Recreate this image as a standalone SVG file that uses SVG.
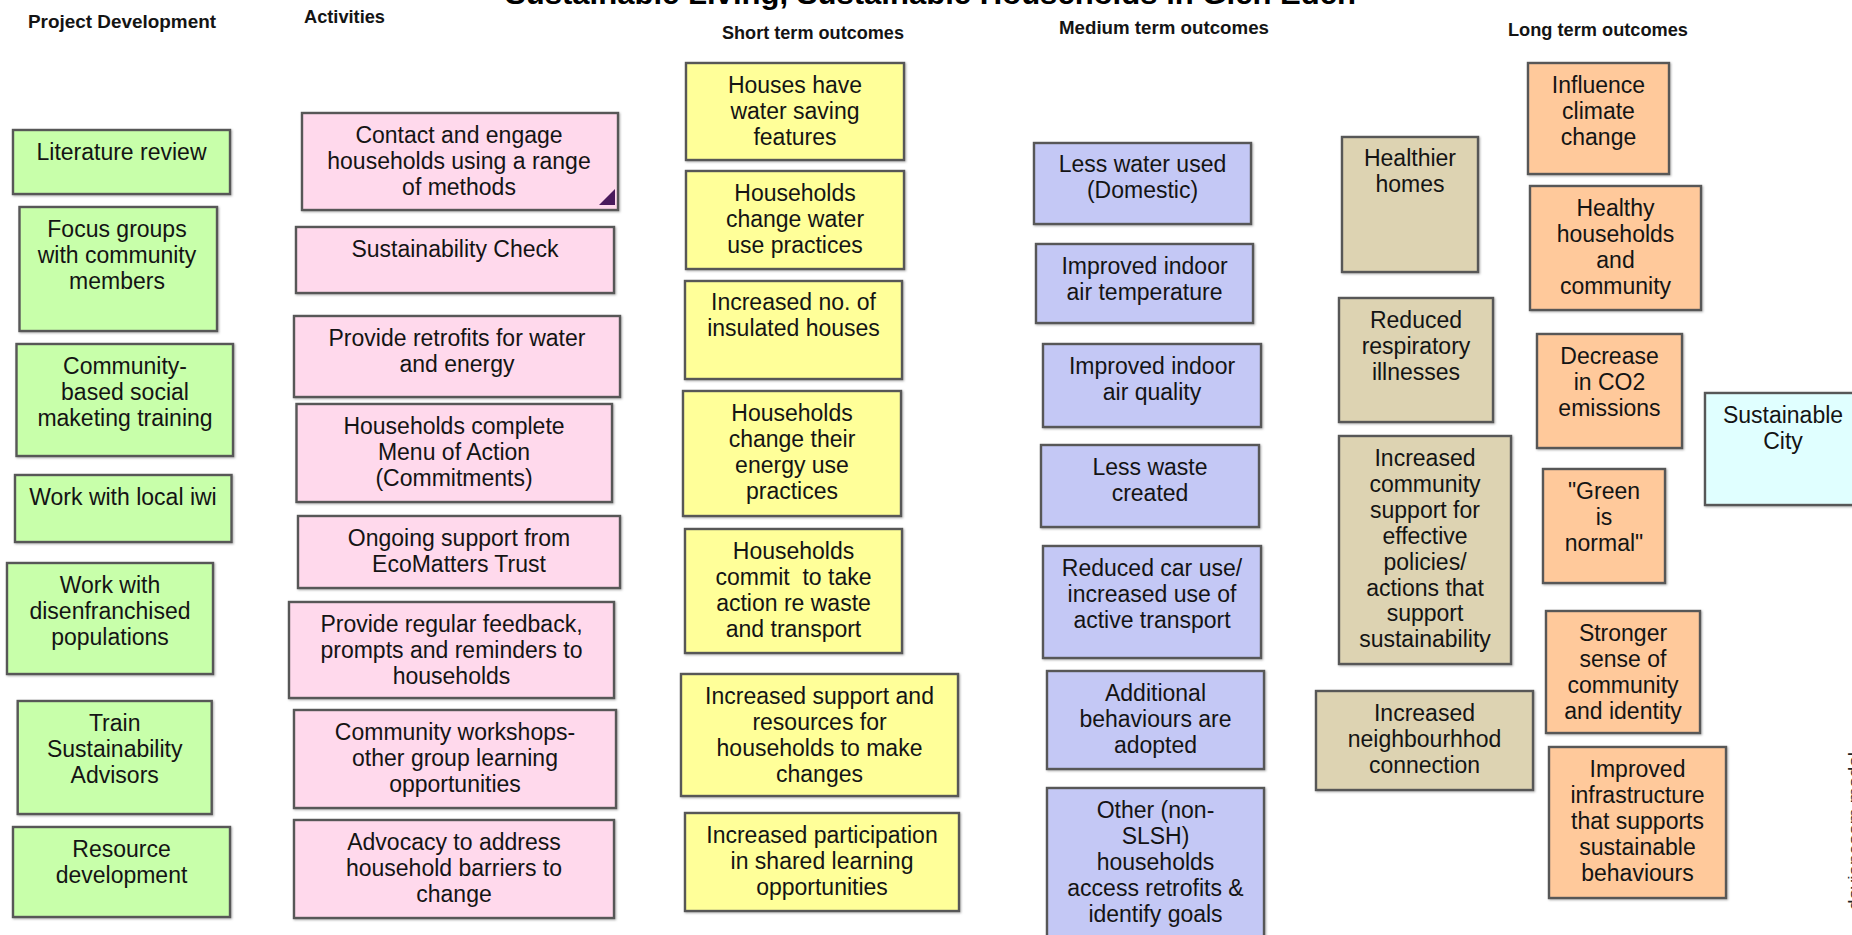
<svg xmlns="http://www.w3.org/2000/svg" width="1852" height="935" viewBox="0 0 1852 935">
<defs>
<style>
.box{stroke:#575757;stroke-width:2.4;filter:drop-shadow(1px 1.5px 1px rgba(0,0,0,0.3));}
.pd{fill:#c8ffaa;}
.ac{fill:#ffd9ec;}
.st{fill:#ffff99;}
.mt{fill:#c4c8f5;}
.lt{fill:#ddd3b2;}
.lo{fill:#ffc99b;}
.gl{fill:#e0ffff;}
.t{font-family:"Liberation Sans",Arial,Helvetica,sans-serif;font-size:23px;fill:#141414;text-anchor:middle;white-space:pre;}
.h{font-family:"Liberation Sans",Arial,Helvetica,sans-serif;font-size:17.5px;font-weight:bold;fill:#141414;}
.title{font-family:"Liberation Sans",Arial,Helvetica,sans-serif;font-size:30px;font-weight:bold;fill:#000;}
.v{font-family:"Liberation Sans",Arial,Helvetica,sans-serif;font-size:14px;fill:#222;}
</style>
</defs>
<rect width="1852" height="935" fill="#ffffff"/>

<g id="title"><text class="title" x="505" y="4" textLength="851" lengthAdjust="spacingAndGlyphs">Sustainable Living, Sustainable Households in Glen Eden</text></g>

<g id="headers">
<text class="h" x="28" y="28" textLength="188" lengthAdjust="spacingAndGlyphs">Project Development</text>
<text class="h" x="304" y="22.5" textLength="81" lengthAdjust="spacingAndGlyphs">Activities</text>
<text class="h" x="722" y="39" textLength="182" lengthAdjust="spacingAndGlyphs">Short term outcomes</text>
<text class="h" x="1059" y="34" textLength="210" lengthAdjust="spacingAndGlyphs">Medium term outcomes</text>
<text class="h" x="1508" y="35.5" textLength="180" lengthAdjust="spacingAndGlyphs">Long term outcomes</text>
</g>

<g id="connectors"></g>

<!-- Project development -->
<g id="pd1"><rect class="box pd" x="13" y="130" width="217" height="64"/><text class="t" x="121.5" y="160"><tspan x="121.5">Literature review</tspan></text></g>
<g id="pd2"><rect class="box pd" x="19.5" y="207" width="197.5" height="124"/><text class="t" y="237"><tspan x="117">Focus groups</tspan><tspan x="117" dy="25.9">with community</tspan><tspan x="117" dy="25.9">members</tspan></text></g>
<g id="pd3"><rect class="box pd" x="16.5" y="344" width="216.5" height="112"/><text class="t" y="374"><tspan x="125">Community-</tspan><tspan x="125" dy="25.9">based social</tspan><tspan x="125" dy="25.9">maketing training</tspan></text></g>
<g id="pd4"><rect class="box pd" x="15" y="475" width="216.5" height="67"/><text class="t" y="505"><tspan x="123">Work with local iwi</tspan></text></g>
<g id="pd5"><rect class="box pd" x="7" y="563" width="206" height="111"/><text class="t" y="593"><tspan x="110">Work with</tspan><tspan x="110" dy="25.9">disenfranchised</tspan><tspan x="110" dy="25.9">populations</tspan></text></g>
<g id="pd6"><rect class="box pd" x="17.7" y="701" width="194" height="113"/><text class="t" y="731"><tspan x="114.7">Train</tspan><tspan x="114.7" dy="25.9">Sustainability</tspan><tspan x="114.7" dy="25.9">Advisors</tspan></text></g>
<g id="pd7"><rect class="box pd" x="13" y="827" width="217" height="90"/><text class="t" y="857"><tspan x="121.5">Resource</tspan><tspan x="121.5" dy="25.9">development</tspan></text></g>

<!-- Activities -->
<g id="ac1"><rect class="box ac" x="302" y="113" width="316" height="97"/><text class="t" y="143"><tspan x="459">Contact and engage</tspan><tspan x="459" dy="25.9">households using a range</tspan><tspan x="459" dy="25.9">of methods</tspan></text><polygon points="615,189 615,205 599,205" fill="#4a1a5c"/></g>
<g id="ac2"><rect class="box ac" x="296" y="227" width="318" height="66"/><text class="t" y="257"><tspan x="455">Sustainability Check</tspan></text></g>
<g id="ac3"><rect class="box ac" x="294" y="316" width="326" height="81"/><text class="t" y="346"><tspan x="457">Provide retrofits for water</tspan><tspan x="457" dy="25.9">and energy</tspan></text></g>
<g id="ac4"><rect class="box ac" x="296.5" y="404" width="315.5" height="98"/><text class="t" y="434"><tspan x="454">Households complete</tspan><tspan x="454" dy="25.9">Menu of Action</tspan><tspan x="454" dy="25.9">(Commitments)</tspan></text></g>
<g id="ac5"><rect class="box ac" x="298" y="516" width="322" height="72"/><text class="t" y="546"><tspan x="459">Ongoing support from</tspan><tspan x="459" dy="25.9">EcoMatters Trust</tspan></text></g>
<g id="ac6"><rect class="box ac" x="289" y="602" width="325" height="96"/><text class="t" y="632"><tspan x="451.5">Provide regular feedback,</tspan><tspan x="451.5" dy="25.9">prompts and reminders to</tspan><tspan x="451.5" dy="25.9">households</tspan></text></g>
<g id="ac7"><rect class="box ac" x="294" y="710" width="322" height="98"/><text class="t" y="740"><tspan x="455">Community workshops-</tspan><tspan x="455" dy="25.9">other group learning</tspan><tspan x="455" dy="25.9">opportunities</tspan></text></g>
<g id="ac8"><rect class="box ac" x="294" y="820" width="320" height="98"/><text class="t" y="850"><tspan x="454">Advocacy to address</tspan><tspan x="454" dy="25.9">household barriers to</tspan><tspan x="454" dy="25.9">change</tspan></text></g>

<!-- Short term -->
<g id="st1"><rect class="box st" x="686" y="63" width="218" height="97"/><text class="t" y="93"><tspan x="795">Houses have</tspan><tspan x="795" dy="25.9">water saving</tspan><tspan x="795" dy="25.9">features</tspan></text></g>
<g id="st2"><rect class="box st" x="686" y="171" width="218" height="98"/><text class="t" y="201"><tspan x="795">Households</tspan><tspan x="795" dy="25.9">change water</tspan><tspan x="795" dy="25.9">use practices</tspan></text></g>
<g id="st3"><rect class="box st" x="685" y="281" width="217" height="98"/><text class="t" y="310"><tspan x="793.5">Increased no. of</tspan><tspan x="793.5" dy="25.9">insulated houses</tspan></text></g>
<g id="st4"><rect class="box st" x="683" y="391" width="218" height="125"/><text class="t" y="421"><tspan x="792">Households</tspan><tspan x="792" dy="25.9">change their</tspan><tspan x="792" dy="25.9">energy use</tspan><tspan x="792" dy="25.9">practices</tspan></text></g>
<g id="st5"><rect class="box st" x="685" y="529" width="217" height="124"/><text class="t" y="559"><tspan x="793.5">Households</tspan><tspan x="793.5" dy="25.9">commit  to take</tspan><tspan x="793.5" dy="25.9">action re waste</tspan><tspan x="793.5" dy="25.9">and transport</tspan></text></g>
<g id="st6"><rect class="box st" x="681" y="674" width="277" height="122"/><text class="t" y="704"><tspan x="819.5">Increased support and</tspan><tspan x="819.5" dy="25.9">resources for</tspan><tspan x="819.5" dy="25.9">households to make</tspan><tspan x="819.5" dy="25.9">changes</tspan></text></g>
<g id="st7"><rect class="box st" x="685" y="813" width="274" height="98"/><text class="t" y="843"><tspan x="822">Increased participation</tspan><tspan x="822" dy="25.9">in shared learning</tspan><tspan x="822" dy="25.9">opportunities</tspan></text></g>

<!-- Medium term -->
<g id="mt1"><rect class="box mt" x="1034" y="143" width="217" height="81"/><text class="t" y="172"><tspan x="1142.5">Less water used</tspan><tspan x="1142.5" dy="25.9">(Domestic)</tspan></text></g>
<g id="mt2"><rect class="box mt" x="1036" y="244" width="217" height="79"/><text class="t" y="274"><tspan x="1144.5">Improved indoor</tspan><tspan x="1144.5" dy="25.9">air temperature</tspan></text></g>
<g id="mt3"><rect class="box mt" x="1043" y="344" width="218" height="83"/><text class="t" y="374"><tspan x="1152">Improved indoor</tspan><tspan x="1152" dy="25.9">air quality</tspan></text></g>
<g id="mt4"><rect class="box mt" x="1041" y="445" width="218" height="82"/><text class="t" y="475"><tspan x="1150">Less waste</tspan><tspan x="1150" dy="25.9">created</tspan></text></g>
<g id="mt5"><rect class="box mt" x="1043" y="546" width="218" height="112"/><text class="t" y="576"><tspan x="1152">Reduced car use/</tspan><tspan x="1152" dy="25.9">increased use of</tspan><tspan x="1152" dy="25.9">active transport</tspan></text></g>
<g id="mt6"><rect class="box mt" x="1047" y="671" width="217" height="98"/><text class="t" y="701"><tspan x="1155.5">Additional</tspan><tspan x="1155.5" dy="25.9">behaviours are</tspan><tspan x="1155.5" dy="25.9">adopted</tspan></text></g>
<g id="mt7"><rect class="box mt" x="1047" y="788" width="217" height="170"/><text class="t" y="818"><tspan x="1155.5">Other (non-</tspan><tspan x="1155.5" dy="25.9">SLSH)</tspan><tspan x="1155.5" dy="25.9">households</tspan><tspan x="1155.5" dy="25.9">access retrofits &amp;</tspan><tspan x="1155.5" dy="25.9">identify goals</tspan></text></g>

<!-- Long term (tan) -->
<g id="lt1"><rect class="box lt" x="1342" y="137" width="136" height="135"/><text class="t" y="166"><tspan x="1410">Healthier</tspan><tspan x="1410" dy="25.9">homes</tspan></text></g>
<g id="lt2"><rect class="box lt" x="1339" y="298" width="154" height="124"/><text class="t" y="328"><tspan x="1416">Reduced</tspan><tspan x="1416" dy="25.9">respiratory</tspan><tspan x="1416" dy="25.9">illnesses</tspan></text></g>
<g id="lt3"><rect class="box lt" x="1339" y="436" width="172" height="228"/><text class="t" y="466"><tspan x="1425">Increased</tspan><tspan x="1425" dy="25.9">community</tspan><tspan x="1425" dy="25.9">support for</tspan><tspan x="1425" dy="25.9">effective</tspan><tspan x="1425" dy="25.9">policies/</tspan><tspan x="1425" dy="25.9">actions that</tspan><tspan x="1425" dy="25.9">support</tspan><tspan x="1425" dy="25.9">sustainability</tspan></text></g>
<g id="lt4"><rect class="box lt" x="1316" y="691" width="217" height="99"/><text class="t" y="721"><tspan x="1424.5">Increased</tspan><tspan x="1424.5" dy="25.9">neighbourhhod</tspan><tspan x="1424.5" dy="25.9">connection</tspan></text></g>

<!-- Long term (orange) -->
<g id="lo1"><rect class="box lo" x="1528" y="63" width="141" height="111"/><text class="t" y="93"><tspan x="1598.5">Influence</tspan><tspan x="1598.5" dy="25.9">climate</tspan><tspan x="1598.5" dy="25.9">change</tspan></text></g>
<g id="lo2"><rect class="box lo" x="1530" y="186" width="171" height="124"/><text class="t" y="216"><tspan x="1615.5">Healthy</tspan><tspan x="1615.5" dy="25.9">households</tspan><tspan x="1615.5" dy="25.9">and</tspan><tspan x="1615.5" dy="25.9">community</tspan></text></g>
<g id="lo3"><rect class="box lo" x="1537" y="334" width="145" height="114"/><text class="t" y="364"><tspan x="1609.5">Decrease</tspan><tspan x="1609.5" dy="25.9">in CO2</tspan><tspan x="1609.5" dy="25.9">emissions</tspan></text></g>
<g id="lo4"><rect class="box lo" x="1543" y="469" width="122" height="114"/><text class="t" y="499"><tspan x="1604">"Green</tspan><tspan x="1604" dy="25.9">is</tspan><tspan x="1604" dy="25.9">normal"</tspan></text></g>
<g id="lo5"><rect class="box lo" x="1546" y="611" width="154" height="122"/><text class="t" y="641"><tspan x="1623">Stronger</tspan><tspan x="1623" dy="25.9">sense of</tspan><tspan x="1623" dy="25.9">community</tspan><tspan x="1623" dy="25.9">and identity</tspan></text></g>
<g id="lo6"><rect class="box lo" x="1549" y="747" width="177" height="151"/><text class="t" y="777"><tspan x="1637.5">Improved</tspan><tspan x="1637.5" dy="25.9">infrastructure</tspan><tspan x="1637.5" dy="25.9">that supports</tspan><tspan x="1637.5" dy="25.9">sustainable</tspan><tspan x="1637.5" dy="25.9">behaviours</tspan></text></g>

<!-- Goal -->
<g id="goal"><rect class="box gl" x="1705" y="393" width="160" height="112"/><text class="t" y="423"><tspan x="1783">Sustainable</tspan><tspan x="1783" dy="25.9">City</tspan></text></g>

<g id="watermark"><text class="v" transform="translate(1859,910) rotate(-90)" textLength="158" lengthAdjust="spacingAndGlyphs">devianceom model</text></g>
</svg>
